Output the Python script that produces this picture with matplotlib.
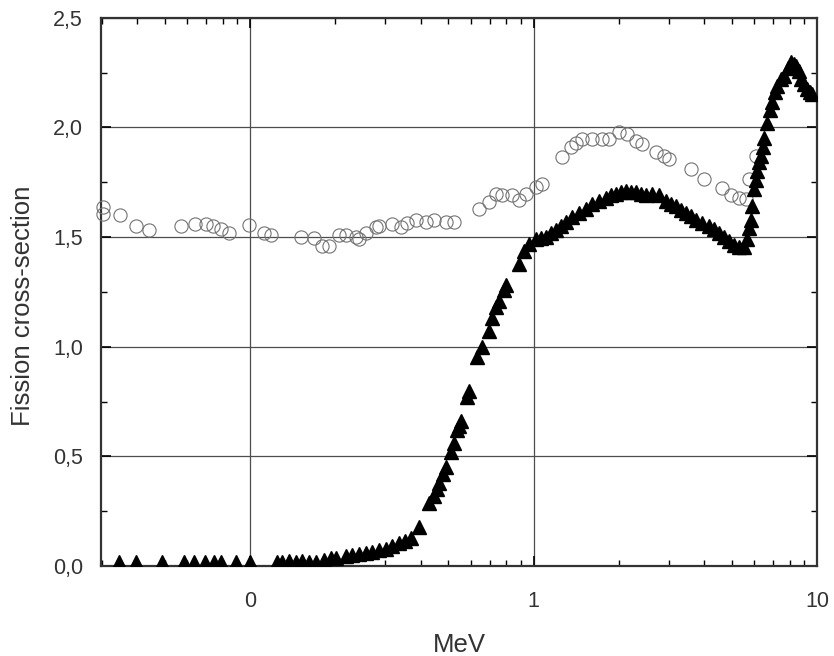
import matplotlib
matplotlib.use("Agg")
import matplotlib.pyplot as plt
from matplotlib.ticker import FixedLocator, FixedFormatter, LogLocator, MultipleLocator, FuncFormatter

plt.rcParams['font.family'] = ['Liberation Sans', 'DejaVu Sans']

# Filled triangles: energy (MeV) and cross-section
tri_e = [0.0344, 0.0395, 0.0491, 0.0587, 0.0637, 0.0691, 0.0749, 0.0793, 0.0889, 0.0996,
         0.1241, 0.1292, 0.1367, 0.1447, 0.1519, 0.1608, 0.1702, 0.1816, 0.1923, 0.2002,
         0.2172, 0.2280, 0.2414, 0.2555, 0.2683, 0.2840, 0.3006, 0.3155, 0.3340, 0.3507,
         0.3682, 0.3929, 0.4262, 0.4438, 0.4547, 0.4622, 0.4775, 0.4894, 0.5096, 0.5222,
         0.5351, 0.5438, 0.5528, 0.5803, 0.5898, 0.6293, 0.6553, 0.6940, 0.7112, 0.7346,
         0.7526, 0.7839, 0.7968, 0.8854, 0.9220, 0.9603, 1.016, 1.058, 1.102, 1.148,
         1.196, 1.245, 1.297, 1.361, 1.441, 1.526, 1.602, 1.696, 1.795, 1.869,
         1.946, 2.027, 2.111, 2.198, 2.290, 2.385, 2.484, 2.608, 2.761, 2.922,
         3.043, 3.169, 3.300, 3.438, 3.580, 3.728, 3.913, 4.143, 4.314, 4.494,
         4.680, 4.874, 5.077, 5.286, 5.505, 5.641, 5.733, 5.827, 5.875, 5.971,
         6.069, 6.118, 6.219, 6.321, 6.425, 6.477, 6.636, 6.799, 6.910, 7.080,
         7.196, 7.434, 7.616, 7.868, 8.064, 8.262, 8.399, 8.605, 8.745, 8.963,
         9.183, 9.409, 9.563]
tri_s = [0.02, 0.02, 0.02, 0.02, 0.02, 0.02, 0.02, 0.02, 0.02, 0.02,
         0.02, 0.02, 0.025, 0.02, 0.025, 0.02, 0.02, 0.03, 0.035, 0.035,
         0.045, 0.05, 0.055, 0.06, 0.065, 0.073, 0.08, 0.09, 0.105, 0.115,
         0.13, 0.18, 0.29, 0.32, 0.35, 0.38, 0.42, 0.45, 0.52, 0.56,
         0.62, 0.64, 0.66, 0.77, 0.80, 0.955, 1.0, 1.07, 1.13, 1.18,
         1.21, 1.26, 1.28, 1.375, 1.435, 1.47, 1.49, 1.495, 1.50, 1.52,
         1.53, 1.55, 1.57, 1.59, 1.61, 1.63, 1.65, 1.665, 1.68, 1.69,
         1.695, 1.705, 1.71, 1.705, 1.705, 1.695, 1.69, 1.695, 1.69, 1.665,
         1.65, 1.64, 1.625, 1.61, 1.595, 1.58, 1.565, 1.55, 1.535, 1.52,
         1.50, 1.48, 1.465, 1.455, 1.455, 1.49, 1.54, 1.58, 1.64, 1.72,
         1.76, 1.80, 1.84, 1.87, 1.91, 1.95, 2.02, 2.08, 2.115, 2.16,
         2.19, 2.22, 2.235, 2.27, 2.30, 2.29, 2.28, 2.255, 2.22, 2.20,
         2.175, 2.16, 2.15]

# Open circles
circ_e = [0.0302, 0.0302, 0.0349, 0.0395, 0.0442, 0.0573, 0.0642, 0.0697, 0.0743, 0.0793,
          0.0840, 0.0988, 0.1116, 0.1181, 0.1507, 0.1675, 0.1788, 0.1892, 0.2052, 0.2172,
          0.2355, 0.2414, 0.2555, 0.2772, 0.2840, 0.3155, 0.3396, 0.3565, 0.3835, 0.4159,
          0.4438, 0.4894, 0.5222, 0.6397, 0.6940, 0.7346, 0.7711, 0.8363, 0.8854, 0.9371,
          1.016, 1.067, 1.255, 1.351, 1.406, 1.477, 1.602, 1.737, 1.839, 1.994,
          2.128, 2.290, 2.404, 2.693, 2.874, 2.994, 3.580, 3.977, 4.604, 4.954,
          5.286, 5.596, 5.733, 6.069]
circ_s = [1.635, 1.605, 1.60, 1.55, 1.53, 1.55, 1.56, 1.56, 1.55, 1.535,
          1.52, 1.555, 1.52, 1.51, 1.50, 1.495, 1.46, 1.46, 1.51, 1.51,
          1.50, 1.49, 1.52, 1.545, 1.55, 1.56, 1.545, 1.565, 1.58, 1.57,
          1.58, 1.57, 1.57, 1.63, 1.66, 1.695, 1.69, 1.69, 1.67, 1.695,
          1.73, 1.74, 1.865, 1.91, 1.93, 1.945, 1.945, 1.945, 1.945, 1.98,
          1.97, 1.94, 1.925, 1.89, 1.87, 1.855, 1.81, 1.765, 1.725, 1.69,
          1.68, 1.675, 1.765, 1.87]

x_tick_vals = [0.1, 1, 10]
x_tick_labels = ['0', '1', '10']

fig = plt.figure(figsize=(8.34, 6.56), dpi=100)
ax = fig.add_axes([0.121, 0.137, 0.859, 0.836])

ax.set_xscale('log')
ax.set_xlim(0.0298, 10)
ax.set_ylim(0, 2.5)

ax.grid(True, which='major', color='0.3', lw=0.9, zorder=0)
ax.set_axisbelow(True)

ax.plot(circ_e, circ_s, linestyle='none', marker='o', ms=9.5, mfc='none',
        mec='0.45', mew=0.8, zorder=3, clip_on=False)
ax.plot(tri_e, tri_s, linestyle='none', marker='^', ms=9.5, color='black', zorder=4)

ax.xaxis.set_major_locator(FixedLocator(x_tick_vals))
ax.xaxis.set_major_formatter(FixedFormatter(x_tick_labels))
ax.xaxis.set_minor_locator(LogLocator(base=10, subs=range(2, 10), numticks=20))
ax.xaxis.set_minor_formatter(FixedFormatter([]))
ax.yaxis.set_major_locator(MultipleLocator(0.5))
ax.yaxis.set_minor_locator(MultipleLocator(0.25))
ax.yaxis.set_major_formatter(FuncFormatter(lambda v, p: f"{v:.1f}".replace('.', ',')))

ax.tick_params(which='both', direction='in', top=True, right=True, colors='black',
               labelcolor='#333333', labelsize=15.5)
ax.tick_params(which='major', length=7, width=1.2)
ax.tick_params(which='minor', length=4, width=1.0)
ax.tick_params(axis='x', pad=18)
ax.tick_params(axis='y', pad=13)

for sp in ax.spines.values():
    sp.set_linewidth(1.6)
    sp.set_color('0.2')

ax.set_xlabel('MeV', fontsize=18.5, color='#333333')
ax.set_ylabel('Fission cross-section', fontsize=18.5, color='#333333')
ax.xaxis.set_label_coords(0.5, -0.122)
ax.yaxis.set_label_coords(-0.092, 0.474)

fig.savefig('out.png', dpi=100)
